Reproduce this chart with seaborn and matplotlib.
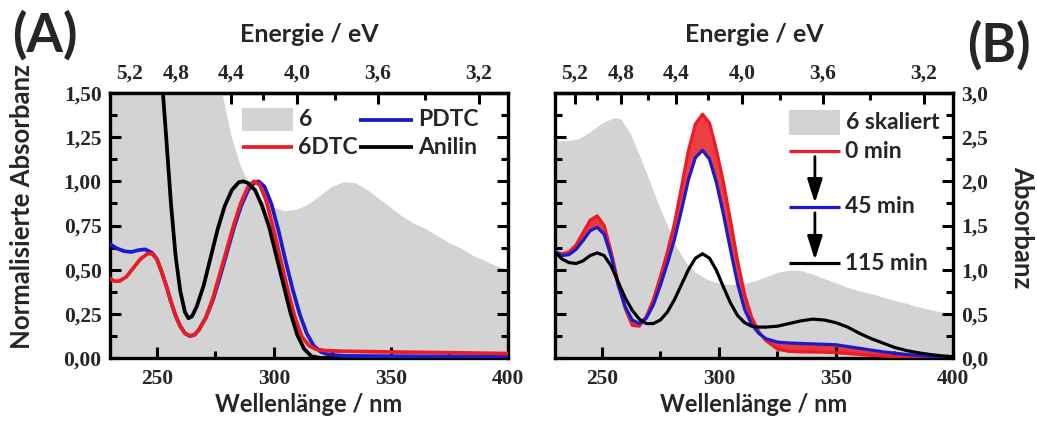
import numpy as np
import pandas as pd
import matplotlib
matplotlib.use("Agg")
import matplotlib.pyplot as plt
import seaborn as sns
from matplotlib.ticker import FixedLocator, MultipleLocator, FuncFormatter

# ---------------- data ----------------
# compound 6 (normalised to its 330 nm band; shown scaled in panel B)
wl_6 = [230, 235, 240, 245, 250, 255, 258, 262, 266, 270, 274, 278, 282, 286, 290,
        295, 300, 305, 310, 315, 320, 325, 330, 335, 340, 345, 350, 355, 360, 365,
        370, 375, 380, 385, 390, 395, 400]
abs_6 = [2.47, 2.46, 2.48, 2.56, 2.66, 2.72, 2.71, 2.55, 2.30, 2.03, 1.75, 1.50, 1.25,
         1.08, 0.97, 0.89, 0.85, 0.83, 0.84, 0.87, 0.92, 0.97, 0.995, 0.99, 0.95, 0.90,
         0.85, 0.80, 0.76, 0.73, 0.69, 0.65, 0.62, 0.58, 0.55, 0.52, 0.50]

# panel A: normalised spectra
wl_pdtc = [230, 233, 236, 239, 242, 245, 248, 250, 252, 254, 256, 258, 260, 262, 264,
           266, 268, 271, 274, 277, 280, 283, 286, 289, 292, 293.5, 296, 299, 302, 305,
           308, 311, 314, 317, 320, 323, 330, 350, 400]
abs_pdtc = [0.645, 0.62, 0.605, 0.60, 0.61, 0.615, 0.595, 0.56, 0.49, 0.41, 0.32, 0.24,
            0.18, 0.14, 0.125, 0.13, 0.16, 0.23, 0.33, 0.46, 0.60, 0.74, 0.86, 0.95,
            0.995, 1.00, 0.97, 0.87, 0.72, 0.55, 0.39, 0.25, 0.14, 0.07, 0.035, 0.02,
            0.012, 0.010, 0.008]

wl_6dtc = [230, 232, 234, 237, 240, 243, 246, 248, 250, 252, 254, 256, 258, 260, 262,
           264, 266, 268, 271, 274, 277, 280, 283, 286, 289, 291.5, 294, 297, 300, 303,
           306, 309, 312, 315, 318, 322, 330, 350, 375, 400]
abs_6dtc = [0.45, 0.435, 0.435, 0.46, 0.51, 0.56, 0.59, 0.59, 0.56, 0.49, 0.41, 0.32,
            0.24, 0.18, 0.14, 0.125, 0.13, 0.16, 0.23, 0.34, 0.48, 0.62, 0.76, 0.88,
            0.97, 1.00, 0.98, 0.88, 0.72, 0.55, 0.38, 0.23, 0.12, 0.07, 0.05, 0.042,
            0.038, 0.034, 0.030, 0.025]

wl_anilin = [252.5, 254, 256, 258, 260, 262, 263.5, 265, 267, 270, 273, 276, 279, 282,
             285, 287, 289, 292, 295, 298, 301, 304, 307, 310, 313, 316, 320, 325]
abs_anilin = [1.52, 1.25, 0.88, 0.58, 0.38, 0.26, 0.225, 0.235, 0.29, 0.41, 0.57, 0.73,
              0.86, 0.95, 0.995, 1.00, 0.99, 0.95, 0.86, 0.74, 0.58, 0.42, 0.26, 0.13,
              0.05, 0.01, 0.0, 0.0]

# panel B: time series of the same sample
wl_t = [230, 233, 236, 239, 242, 245, 248, 251, 254, 257, 260, 263, 266, 269, 272, 275,
        278, 281, 284, 287, 290, 293, 296, 299, 302, 305, 308, 311, 314, 317, 320, 325,
        330, 335, 340, 345, 350, 355, 360, 365, 370, 375, 380, 385, 390, 395, 400]
abs_0min = [1.20, 1.18, 1.20, 1.28, 1.42, 1.56, 1.61, 1.50, 1.20, 0.85, 0.56, 0.37,
            0.36, 0.47, 0.66, 0.92, 1.20, 1.52, 1.93, 2.35, 2.65, 2.76, 2.66, 2.35,
            1.98, 1.55, 1.10, 0.72, 0.46, 0.30, 0.20, 0.10, 0.075, 0.07, 0.068, 0.065,
            0.06, 0.05, 0.04, 0.03, 0.022, 0.016, 0.012, 0.008, 0.005, 0.003, 0.002]
abs_45min = [1.20, 1.16, 1.17, 1.23, 1.33, 1.44, 1.48, 1.40, 1.15, 0.82, 0.58, 0.43,
             0.39, 0.45, 0.60, 0.82, 1.07, 1.34, 1.67, 2.02, 2.27, 2.35, 2.25, 1.98,
             1.62, 1.22, 0.84, 0.55, 0.38, 0.28, 0.22, 0.18, 0.17, 0.165, 0.16, 0.155,
             0.15, 0.13, 0.11, 0.09, 0.07, 0.055, 0.04, 0.03, 0.02, 0.012, 0.008]
abs_115min = [1.20, 1.12, 1.08, 1.07, 1.10, 1.16, 1.19, 1.16, 1.04, 0.86, 0.68, 0.54,
              0.44, 0.39, 0.39, 0.43, 0.52, 0.66, 0.83, 1.00, 1.13, 1.18, 1.13, 0.99,
              0.80, 0.62, 0.48, 0.40, 0.36, 0.35, 0.35, 0.36, 0.39, 0.42, 0.44, 0.43,
              0.40, 0.35, 0.28, 0.22, 0.17, 0.12, 0.085, 0.06, 0.04, 0.025, 0.015]

energy_major = [5.2, 4.8, 4.4, 4.0, 3.6, 3.2]
energy_minor = [5.0, 4.6, 4.2, 3.8, 3.4]
HC = 1239.84  # eV nm

# ---------------- style ----------------
sns.set_theme(style="ticks")
SANS = ["Lato", "DejaVu Sans"]
SERIF = ["Liberation Serif", "DejaVu Serif"]
plt.rcParams["font.family"] = SANS
plt.rcParams["font.weight"] = "bold"
plt.rcParams["axes.axisbelow"] = False

GRAY = "#d3d3d3"
RED = "#ec1c24"
BLUE = "#1b1bcc"
BLACK = "#000000"
LW = 2.7
TICKFS = 15.5
LABELFS = 18
LEGFS = 16.5

fig = plt.figure(figsize=(10.37, 4.34), dpi=100)
axA = fig.add_axes([110 / 1037, 76 / 434, 398 / 1037, 265 / 434])
axB = fig.add_axes([555 / 1037, 76 / 434, 398 / 1037, 265 / 434])


def fmt(decimals):
    return FuncFormatter(lambda v, p: f"{v:.{decimals}f}".replace(".", ","))


def style_axes(ax, ymax, ystep, ydec, right_labels=False):
    ax.set_axisbelow(False)
    ax.set_xlim(230, 400)
    ax.set_ylim(0, ymax)
    ax.xaxis.set_major_locator(MultipleLocator(50))
    ax.xaxis.set_minor_locator(MultipleLocator(25))
    ax.yaxis.set_major_locator(MultipleLocator(ystep))
    ax.yaxis.set_minor_locator(MultipleLocator(ystep / 2))
    ax.xaxis.set_major_formatter(FuncFormatter(lambda v, p: f"{v:.0f}"))
    ax.yaxis.set_major_formatter(fmt(ydec))
    for s in ax.spines.values():
        s.set_linewidth(2.4)
        s.set_color("black")
    ax.tick_params(which="both", direction="in", left=True, right=True,
                   bottom=True, top=False, width=2.2, color="black")
    ax.tick_params(which="major", length=8)
    ax.tick_params(which="minor", length=5)
    ax.tick_params(axis="x", which="major", pad=8)
    if right_labels:
        ax.tick_params(axis="y", labelleft=False, labelright=True, pad=6)
    else:
        ax.tick_params(axis="y", pad=6)
    for lab in ax.get_xticklabels() + ax.get_yticklabels():
        lab.set_fontfamily(SERIF)
        lab.set_fontweight("bold")
        lab.set_fontsize(TICKFS)
    ax.set_xlabel("")
    ax.set_ylabel("")

    top = ax.secondary_xaxis("top", functions=(lambda x: HC / np.clip(x, 1e-6, None),
                                               lambda e: HC / np.clip(e, 1e-6, None)))
    top.xaxis.set_major_locator(FixedLocator(energy_major))
    top.xaxis.set_minor_locator(FixedLocator(energy_minor))
    top.xaxis.set_major_formatter(fmt(1))
    top.tick_params(which="both", direction="in", width=2.2, color="black")
    top.tick_params(which="major", length=8, pad=7)
    top.tick_params(which="minor", length=5)
    top.spines["top"].set_linewidth(2.4)
    for lab in top.get_xticklabels():
        lab.set_fontfamily(SERIF)
        lab.set_fontweight("bold")
        lab.set_fontsize(TICKFS)
    return top


# ---------------- panel A ----------------
axA.fill_between(wl_6, 0, abs_6, color=GRAY, lw=0, zorder=1)
dfA = pd.concat([
    pd.DataFrame({"wl": wl_pdtc, "A": abs_pdtc, "s": "PDTC"}),
    pd.DataFrame({"wl": wl_6dtc, "A": abs_6dtc, "s": "6DTC"}),
    pd.DataFrame({"wl": wl_anilin, "A": abs_anilin, "s": "Anilin"}),
])
sns.lineplot(data=dfA, x="wl", y="A", hue="s", hue_order=["PDTC", "6DTC", "Anilin"],
             palette=[BLUE, RED, BLACK], lw=LW, sort=False, legend=False, ax=axA,
             zorder=3)
style_axes(axA, 1.5, 0.25, 2)

# ---------------- panel B ----------------
axB.fill_between(wl_6, 0, abs_6, color=GRAY, lw=0, zorder=1)
axB.fill_between(wl_t, abs_45min, abs_0min, color=RED, alpha=0.85, lw=0, zorder=2)
dfB = pd.concat([
    pd.DataFrame({"wl": wl_t, "A": abs_0min, "s": "0 min"}),
    pd.DataFrame({"wl": wl_t, "A": abs_45min, "s": "45 min"}),
    pd.DataFrame({"wl": wl_t, "A": abs_115min, "s": "115 min"}),
])
sns.lineplot(data=dfB, x="wl", y="A", hue="s", hue_order=["0 min", "45 min", "115 min"],
             palette=[RED, BLUE, BLACK], lw=2.3, sort=False, legend=False, ax=axB,
             zorder=3)
style_axes(axB, 3.0, 0.5, 1, right_labels=True)


# ---------------- legends ----------------
def legend_patch(ax, x0, x1, yc, h, text):
    ax.add_patch(plt.Rectangle((x0, yc - h / 2), x1 - x0, h, transform=ax.transAxes,
                               color=GRAY, lw=0, zorder=5))
    ax.text(x1 + 0.015, yc, text, transform=ax.transAxes, va="center", ha="left",
            fontsize=LEGFS, fontweight="bold", zorder=6)


def legend_line(ax, x0, x1, yc, color, text, lw=LW):
    ax.plot([x0, x1], [yc, yc], transform=ax.transAxes, color=color, lw=lw, zorder=5,
            solid_capstyle="butt")
    ax.text(x1 + 0.012, yc, text, transform=ax.transAxes, va="center", ha="left",
            fontsize=LEGFS, fontweight="bold", zorder=6)


legend_patch(axA, 0.332, 0.460, 0.900, 0.088, "6")
legend_line(axA, 0.332, 0.460, 0.796, RED, "6DTC")
legend_line(axA, 0.626, 0.761, 0.900, BLUE, "PDTC")
legend_line(axA, 0.626, 0.761, 0.796, BLACK, "Anilin")

legend_patch(axB, 0.588, 0.716, 0.889, 0.094, "6 skaliert")
legend_line(axB, 0.588, 0.716, 0.781, RED, "0 min", lw=2.3)
legend_line(axB, 0.588, 0.716, 0.570, BLUE, "45 min", lw=2.3)
legend_line(axB, 0.588, 0.716, 0.358, BLACK, "115 min", lw=2.3)
for y0, y1 in [(0.760, 0.585), (0.548, 0.370)]:
    axB.annotate("", xy=(0.653, y1), xytext=(0.653, y0), xycoords="axes fraction",
                 arrowprops=dict(arrowstyle="-|>,head_length=1.2,head_width=0.38",
                                 color="black", lw=2.0, shrinkA=0, shrinkB=0),
                 zorder=6)

# ---------------- labels ----------------
for cx in [(110 + 508) / 2 / 1037, (555 + 953) / 2 / 1037]:
    fig.text(cx, 1 - 35 / 434, "Energie / eV", ha="center", va="center",
             fontsize=LABELFS, fontweight="bold")
    fig.text(cx, 1 - 405 / 434, "Wellenlänge / nm", ha="center", va="center",
             fontsize=17, fontweight="bold")
fig.text(22 / 1037, 1 - 207 / 434, "Normalisierte Absorbanz", rotation=90,
         ha="center", va="center", fontsize=18.5, fontweight="bold")
fig.text(1022 / 1037, 1 - 227 / 434, "Absorbanz", rotation=270,
         ha="center", va="center", fontsize=18.5, fontweight="bold")
fig.text(45 / 1037, 1 - 35 / 434, "(A)", ha="center", va="center",
         fontsize=38, fontweight="bold", family=SANS)
fig.text(999 / 1037, 1 - 45 / 434, "(B)", ha="center", va="center",
         fontsize=38, fontweight="bold", family=SANS)

fig.savefig("out.png", dpi=100)
